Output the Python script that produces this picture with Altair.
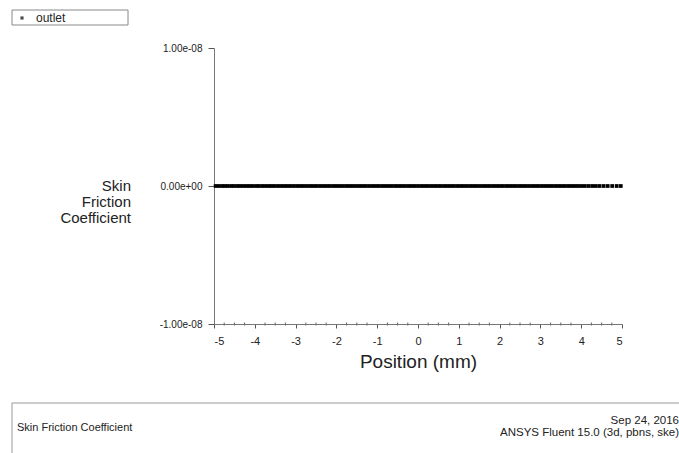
import altair as alt
import pandas as pd

# ---- data ----
positions = [
    -4.96, -4.88, -4.80, -4.73, -4.66, -4.58, -4.51, -4.43, -4.36, -4.28,
    -4.20, -4.13, -4.05, -3.97, -3.90, -3.82, -3.74, -3.66, -3.59, -3.51,
    -3.43, -3.35, -3.27, -3.20, -3.12, -3.04, -2.96, -2.88, -2.80, -2.72,
    -2.64, -2.56, -2.48, -2.40, -2.32, -2.24, -2.16, -2.08, -2.00, -1.92,
    -1.84, -1.76, -1.68, -1.60, -1.52, -1.44, -1.36, -1.28, -1.20, -1.12,
    -1.04, -0.96, -0.88, -0.80, -0.72, -0.64, -0.56, -0.48, -0.40, -0.32,
    -0.24, -0.16, -0.08, 0.00, 0.08, 0.16, 0.24, 0.32, 0.40, 0.48,
    0.56, 0.64, 0.72, 0.80, 0.88, 0.96, 1.04, 1.12, 1.20, 1.28,
    1.36, 1.44, 1.52, 1.60, 1.68, 1.76, 1.84, 1.92, 2.00, 2.08,
    2.16, 2.24, 2.32, 2.40, 2.48, 2.56, 2.64, 2.72, 2.80, 2.88,
    2.96, 3.04, 3.12, 3.20, 3.28, 3.36, 3.44, 3.52, 3.60, 3.68,
    3.76, 3.84, 3.92, 4.00, 4.09, 4.18, 4.27, 4.36, 4.45, 4.55,
    4.65, 4.76, 4.87, 4.97,
]
skin_friction = [0.0] * len(positions)

x_ticks = [-5, -4, -3, -2, -1, 0, 1, 2, 3, 4, 5]
x_minor_ticks = [-4.75, -4.5, -4.25, -3.75, -3.5, -3.25, -2.75, -2.5, -2.25,
                 -1.75, -1.5, -1.25, -0.75, -0.5, -0.25, 0.25, 0.5, 0.75,
                 1.25, 1.5, 1.75, 2.25, 2.5, 2.75, 3.25, 3.5, 3.75,
                 4.25, 4.5, 4.75]
y_ticks = [-1e-08, 0.0, 1e-08]

series_name = "outlet"
x_title = "Position (mm)"
y_title = "Skin\nFriction\nCoefficient"
footer_left = "Skin Friction Coefficient"
footer_date = "Sep 24, 2016"
footer_app = "ANSYS Fluent 15.0 (3d, pbns, ske)"

FONT = "Liberation Sans"
W, H = 408, 276

df = pd.DataFrame({"Position": positions, "Value": skin_friction})
minor_df = pd.DataFrame({"Position": x_minor_ticks})

xscale = alt.Scale(domain=[-5, 5], nice=False, zero=False)
yscale = alt.Scale(domain=[-1e-08, 1e-08], nice=False, zero=False)

points = alt.Chart(df).mark_square(size=14, color="black", opacity=1).encode(
    x=alt.X("Position:Q", scale=xscale,
            axis=alt.Axis(values=x_ticks, labelExpr="'' + datum.value", title=x_title,
                          titleFont=FONT, titleFontSize=19, titleFontWeight="normal",
                          titleColor="#222", titlePadding=6,
                          labelFont=FONT, labelFontSize=11, labelColor="#222",
                          labelPadding=7, tickSize=4, tickColor="#555",
                          domainColor="#777", grid=False)),
    y=alt.Y("Value:Q", scale=yscale,
            axis=alt.Axis(values=y_ticks, title=None,
                          labelExpr="datum.value > 0 ? '1.00e-08' : (datum.value < 0 ? '-1.00e-08' : '0.00e+00')",
                          labelFont=FONT, labelFontSize=10, labelColor="#222",
                          labelPadding=6, tickSize=6, tickColor="#555",
                          domainColor="#777", grid=False)),
)

minor = alt.Chart(minor_df).mark_rule(color="#666", strokeWidth=1).encode(
    x=alt.X("Position:Q", scale=xscale),
    y=alt.value(H - 1.5),
    y2=alt.value(H + 1.5),
)

one = alt.Data(values=[{}])

ytitle = alt.Chart(one).mark_text(
    font=FONT, fontSize=15, align="right", baseline="top", lineBreak="\n",
    lineHeight=16, color="#222",
).encode(x=alt.value(-83), y=alt.value(131), text=alt.value(y_title))

legend_box = alt.Chart(one).mark_rect(fill="white", stroke="#888", strokeWidth=1).encode(
    x=alt.value(-202), x2=alt.value(-86), y=alt.value(-38), y2=alt.value(-23)
)
legend_dot = alt.Chart(one).mark_square(size=10, color="black").encode(
    x=alt.value(-192), y=alt.value(-30)
)
legend_text = alt.Chart(one).mark_text(
    font=FONT, fontSize=12, align="left", baseline="middle", color="#222"
).encode(x=alt.value(-178), y=alt.value(-30), text=alt.value(series_name))

footer_box = alt.Chart(one).mark_rect(fill="white", stroke="#999", strokeWidth=1).encode(
    x=alt.value(-202), x2=alt.value(480), y=alt.value(355), y2=alt.value(420)
)
footer_l = alt.Chart(one).mark_text(
    font=FONT, fontSize=11, align="left", baseline="middle", color="#222"
).encode(x=alt.value(-197), y=alt.value(380), text=alt.value(footer_left))
footer_r1 = alt.Chart(one).mark_text(
    font=FONT, fontSize=11.5, align="right", baseline="middle", color="#222"
).encode(x=alt.value(465), y=alt.value(373), text=alt.value(footer_date))
footer_r2 = alt.Chart(one).mark_text(
    font=FONT, fontSize=11.5, align="right", baseline="middle", color="#222"
).encode(x=alt.value(465), y=alt.value(385), text=alt.value(footer_app))

chart = alt.layer(
    footer_box, footer_l, footer_r1, footer_r2,
    legend_box, legend_dot, legend_text,
    ytitle, minor, points,
).properties(
    width=W, height=H,
    autosize=alt.AutoSizeParams(type="none"),
    padding={"left": 214, "top": 48, "right": 57, "bottom": 129},
    background="white",
).configure_view(stroke=None)

chart.save("out.html", embed_options={"renderer": "svg", "actions": False})
